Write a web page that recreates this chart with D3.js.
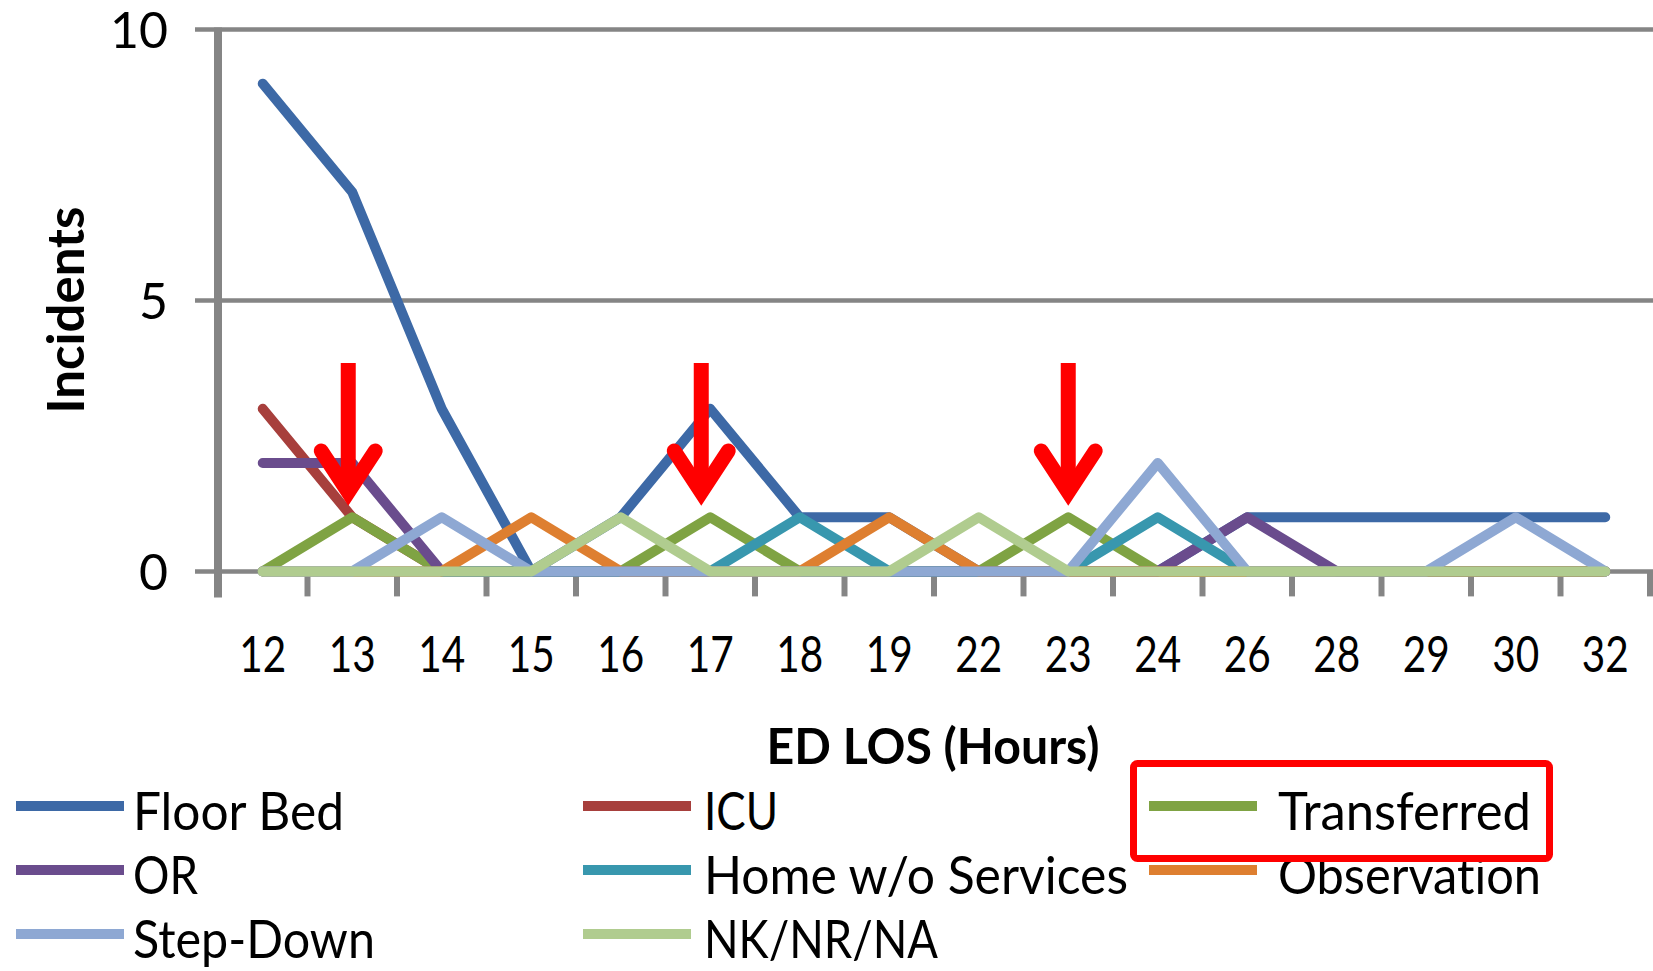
<!DOCTYPE html>
<html>
<head>
<meta charset="utf-8">
<script src="https://cdn.jsdelivr.net/npm/d3@7/dist/d3.min.js"></script>
<style>
  html, body { margin: 0; padding: 0; background: #fff; }
  svg { display: block; }
  text { font-family: Lato, "Open Sans", sans-serif; fill: #000; font-variant-ligatures: none; font-feature-settings: "liga" 0; }
</style>
</head>
<body>
<svg id="chart" width="1653" height="971"></svg>
<script>
// ---------- data ----------
const categories = ["12","13","14","15","16","17","18","19","22","23","24","26","28","29","30","32"];
const seriesNames = ["Floor Bed","ICU","Transferred","OR","Home w/o Services","Observation","Step-Down","NK/NR/NA"];
const floorBed    = [9,7,3,0,1,3,1,1,0,0,0,1,1,1,1,1];
const icu         = [3,1,0,0,0,0,0,0,0,0,0,0,0,0,0,0];
const transferred = [0,1,0,0,0,1,0,0,0,1,0,0,0,0,0,0];
const orVals      = [2,2,0,0,0,0,0,0,0,0,0,1,0,0,0,0];
const homeNoSvc   = [0,0,0,0,0,0,1,0,0,0,1,0,0,0,0,0];
const observation = [0,0,0,1,0,0,0,1,0,0,0,0,0,0,0,0];
const stepDown    = [0,0,1,0,0,0,0,0,0,0,2,0,0,0,1,0];
const nkNrNa      = [0,0,0,0,1,0,0,0,1,0,0,0,0,0,0,0];
const seriesValues = [floorBed, icu, transferred, orVals, homeNoSvc, observation, stepDown, nkNrNa];
const seriesColors = ["#3d69a6","#a73f3c","#7fa343","#6a4c8d","#3897ae","#de7f30","#8ea8d3","#b0cc8f"];
const yTicks = [0, 5, 10];
const arrowCategories = ["13","17","23"];
const arrowOffsets = [-4, -9, 0];
const highlightSeries = "Transferred";
const yTitle = "Incidents";
const xTitle = "ED LOS (Hours)";

// ---------- layout ----------
const svg = d3.select("#chart");
const plotLeft = 218, plotRight = 1650, plotTop = 29.5, plotBottom = 571.4;
const x = d3.scaleBand().domain(categories).range([plotLeft, plotRight]).padding(0);
const y = d3.scaleLinear().domain([0, 10]).range([plotBottom, plotTop]);
const gray = "#858585";

// gridlines
svg.append("g").selectAll("line").data(yTicks).join("line")
  .attr("x1", plotLeft - 23).attr("x2", 1653)
  .attr("y1", d => y(d)).attr("y2", d => y(d))
  .attr("stroke", gray).attr("stroke-width", 4.5);

// x boundary ticks
const bounds = categories.map(c => x(c)).slice(1).concat([plotRight]);
svg.append("g").selectAll("line").data(bounds).join("line")
  .attr("x1", d => d).attr("x2", d => d)
  .attr("y1", plotBottom).attr("y2", plotBottom + 25)
  .attr("stroke", gray).attr("stroke-width", 6);

// y axis line
svg.append("line").attr("x1", plotLeft).attr("x2", plotLeft)
  .attr("y1", plotTop - 2).attr("y2", plotBottom + 26)
  .attr("stroke", gray).attr("stroke-width", 8);

// y tick labels via axis
const yAxis = svg.append("g").attr("transform", `translate(${plotLeft - 50},0)`)
  .call(d3.axisLeft(y).tickValues(yTicks).tickSize(0).tickPadding(0));
yAxis.select(".domain").remove();
yAxis.selectAll("text").attr("font-size", 50).attr("dy", "0.36em").attr("x", 0);

// x tick labels via axis
const xAxis = svg.append("g").attr("transform", `translate(0,${plotBottom})`)
  .call(d3.axisBottom(x).tickSize(0).tickPadding(0));
xAxis.select(".domain").remove();
xAxis.selectAll("text").attr("font-size", 51).attr("y", 101).attr("dy", 0)
  .attr("textLength", 47).attr("lengthAdjust", "spacingAndGlyphs");

// series lines
const line = d3.line().x((d, i) => x(categories[i]) + x.bandwidth() / 2).y(d => y(d));
svg.append("g").selectAll("path").data(seriesValues).join("path")
  .attr("d", d => line(d))
  .attr("fill", "none")
  .attr("stroke", (d, i) => seriesColors[i])
  .attr("stroke-width", 10)
  .attr("stroke-linejoin", "round")
  .attr("stroke-linecap", "round");

// arrows
const arrows = svg.append("g");
arrowCategories.forEach((c, i) => {
  const cx = x(c) + x.bandwidth() / 2 + arrowOffsets[i];
  arrows.append("line").attr("x1", cx).attr("x2", cx).attr("y1", 363).attr("y2", 488)
    .attr("stroke", "#ff0000").attr("stroke-width", 15);
  arrows.append("path")
    .attr("d", `M${cx - 27},${451} L${cx},${492} L${cx + 27},${451}`)
    .attr("fill", "none").attr("stroke", "#ff0000").attr("stroke-width", 15)
    .attr("stroke-linecap", "round").attr("stroke-linejoin", "miter");
});

// axis titles
svg.append("text").attr("transform", "translate(84,310) rotate(-90)")
  .attr("text-anchor", "middle").attr("font-size", 51).attr("font-weight", "bold")
  .attr("textLength", 207).attr("lengthAdjust", "spacingAndGlyphs").text(yTitle);
svg.append("text").attr("x", 933).attr("y", 764)
  .attr("text-anchor", "middle").attr("font-size", 50).attr("font-weight", "bold")
  .attr("textLength", 333).attr("lengthAdjust", "spacingAndGlyphs").text(xTitle);

// legend
const legendCols = [16, 583, 1149];
const legendTextX = [133, 704, 1278];
const legendRows = [830, 894, 958];
const legendWidths = [211, 74, 253, 65, 424, 263, 242, 234];
const lg = svg.append("g");
seriesNames.forEach((name, i) => {
  const col = i % 3, row = Math.floor(i / 3);
  const by = legendRows[row];
  lg.append("line").attr("x1", legendCols[col]).attr("x2", legendCols[col] + 108)
    .attr("y1", by - 24).attr("y2", by - 24)
    .attr("stroke", seriesColors[i]).attr("stroke-width", 10);
  lg.append("text").attr("x", legendTextX[col]).attr("y", by)
    .attr("font-size", 52).attr("textLength", legendWidths[i])
    .attr("lengthAdjust", "spacingAndGlyphs").text(name);
});

// highlight box around legend entry
const hi = seriesNames.indexOf(highlightSeries);
const hcol = hi % 3, hrow = Math.floor(hi / 3);
svg.append("rect")
  .attr("x", legendCols[hcol] - 15.5).attr("y", legendRows[hrow] - 66.5)
  .attr("width", 416).attr("height", 95).attr("rx", 4)
  .attr("fill", "none").attr("stroke", "#ff0000").attr("stroke-width", 7);
</script>
</body>
</html>
